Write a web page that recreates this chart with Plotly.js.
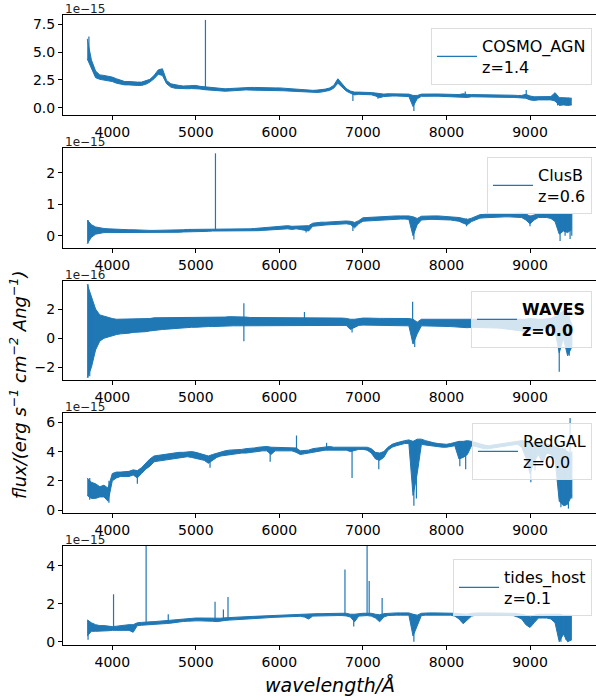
<!DOCTYPE html>
<html><head><meta charset="utf-8">
<script src="https://cdn.plot.ly/plotly-3.0.1.min.js"></script>
<style>html,body{margin:0;padding:0;background:#fff}#chart{width:596px;height:700px}</style>
</head><body><div id="chart"></div>
<script>
// shared wavelength grid (Angstrom)
const wave = [3700,3750,3800,3850,3900,3950,4000,4050,4100,4150,
4200,4250,4300,4350,4400,4450,4500,4550,4600,4650,
4700,4750,4800,4850,4900,4950,5000,5050,5100,5150,
5200,5250,5300,5350,5400,5450,5500,5550,5600,5650,
5700,5750,5800,5850,5900,5950,6000,6050,6100,6150,
6200,6250,6300,6350,6400,6450,6500,6550,6600,6650,
6700,6750,6800,6850,6900,6950,7000,7050,7100,7150,
7200,7250,7300,7350,7400,7450,7500,7550,7600,7650,
7700,7750,7800,7850,7900,7950,8000,8050,8100,8150,
8200,8250,8300,8350,8400,8450,8500,8550,8600,8650,
8700,8750,8800,8850,8900,8950,9000,9050,9100,9150,
9200,9250,9300,9350,9400,9450,9500];

const labels = ['COSMO_AGN<br>z=1.4','ClusB<br>z=0.6','WAVES<br>z=0.0','RedGAL<br>z=0.0','tides_host<br>z=0.1'];
const offsets = ['1e\u221215','1e\u221215','1e\u221216','1e\u221215','1e\u221215'];

// upper / lower edge of the noisy flux band (units of the offset shown above each panel)
const hiAGN = [6.2,4.3,3.3,2.95,2.9,2.85,2.75,2.6,2.45,2.35,
2.35,2.3,2.3,2.3,2.4,2.55,2.9,3.4,3.5,2.45,
2.15,2.05,2.0,1.95,1.95,2.0,2.0,1.92,1.88,1.82,
1.78,1.75,1.72,1.7,1.72,1.75,1.78,1.82,1.85,1.82,
1.82,1.8,1.8,1.8,1.78,1.78,1.78,1.75,1.72,1.7,
1.68,1.64,1.6,1.56,1.56,1.58,1.62,1.67,1.77,2.0,
2.6,2.15,1.72,1.5,1.4,1.4,1.4,1.38,1.36,1.32,
1.25,1.22,1.25,1.25,1.25,1.25,1.25,1.22,1.1,1.1,
1.22,1.24,1.24,1.23,1.23,1.22,1.22,1.2,1.2,1.18,
1.25,1.18,1.18,1.18,1.17,1.17,1.17,1.16,1.15,1.15,
1.14,1.13,1.12,1.1,1.1,1.2,1.05,0.98,1.0,1.0,
1.0,1.0,1.35,0.9,0.9,0.9,0.85];
const loAGN = [4.4,3.5,2.7,2.55,2.5,2.45,2.35,2.2,2.1,2.05,
2.05,2.0,2.0,2.0,2.1,2.3,2.6,3.0,2.9,2.15,
1.85,1.75,1.72,1.68,1.7,1.72,1.72,1.68,1.62,1.58,
1.55,1.52,1.5,1.48,1.5,1.53,1.55,1.58,1.6,1.58,
1.58,1.56,1.56,1.55,1.55,1.54,1.54,1.52,1.5,1.48,
1.46,1.42,1.38,1.35,1.35,1.37,1.4,1.45,1.55,1.75,
2.2,1.85,1.5,1.3,1.15,1.2,1.2,1.18,1.16,1.05,
0.9,1.0,1.05,1.05,1.05,1.05,1.05,1.0,0.1,0.8,
1.02,1.04,1.04,1.03,1.03,1.02,1.02,1.0,1.0,0.98,
0.95,0.92,0.98,0.98,0.97,0.97,0.97,0.96,0.95,0.95,
0.94,0.93,0.92,0.9,0.9,0.85,0.7,0.65,0.7,0.7,
0.7,0.7,0.6,0.2,0.25,0.2,0.25];
const hiClusB = [0.5,0.35,0.28,0.25,0.23,0.22,0.21,0.2,0.2,0.19,
0.19,0.19,0.18,0.18,0.18,0.17,0.17,0.17,0.18,0.18,
0.18,0.18,0.19,0.19,0.2,0.2,0.21,0.21,0.21,0.21,
0.22,0.22,0.22,0.22,0.22,0.22,0.21,0.21,0.22,0.22,
0.23,0.24,0.27,0.27,0.28,0.28,0.29,0.3,0.32,0.3,
0.31,0.32,0.33,0.32,0.4,0.42,0.43,0.43,0.44,0.45,
0.46,0.46,0.47,0.46,0.42,0.48,0.57,0.58,0.59,0.6,
0.6,0.61,0.62,0.63,0.63,0.63,0.63,0.63,0.6,0.55,
0.62,0.63,0.63,0.63,0.63,0.62,0.62,0.61,0.6,0.58,
0.55,0.52,0.56,0.62,0.67,0.68,0.69,0.7,0.7,0.7,
0.7,0.71,0.71,0.71,0.72,0.7,0.62,0.66,0.7,0.7,
0.7,0.7,0.7,0.7,0.7,0.7,0.7];
const loClusB = [-0.25,-0.05,0.05,0.08,0.1,0.1,0.1,0.1,0.1,0.1,
0.1,0.1,0.1,0.09,0.09,0.09,0.09,0.09,0.1,0.1,
0.1,0.11,0.11,0.12,0.12,0.13,0.13,0.14,0.14,0.14,
0.15,0.15,0.15,0.15,0.15,0.14,0.14,0.14,0.14,0.14,
0.15,0.16,0.17,0.18,0.18,0.19,0.2,0.21,0.22,0.2,
0.22,0.2,0.18,0.15,0.3,0.32,0.33,0.34,0.35,0.36,
0.37,0.37,0.38,0.36,0.25,0.38,0.46,0.47,0.48,0.49,
0.5,0.5,0.51,0.52,0.52,0.53,0.53,0.52,0.0,0.35,
0.5,0.52,0.52,0.52,0.52,0.51,0.5,0.5,0.48,0.46,
0.4,0.35,0.45,0.5,0.56,0.57,0.58,0.59,0.6,0.6,
0.6,0.6,0.6,0.6,0.58,0.5,0.38,0.5,0.58,0.58,
0.58,0.55,0.45,0.05,0.15,0.1,0.2];
const hiWAVES = [3.7,2.8,2.0,1.6,1.5,1.4,1.35,1.3,1.3,1.3,
1.3,1.3,1.3,1.3,1.35,1.35,1.4,1.4,1.4,1.4,
1.4,1.4,1.42,1.42,1.42,1.42,1.42,1.42,1.44,1.44,
1.45,1.45,1.45,1.45,1.48,1.48,1.45,1.45,1.45,1.42,
1.42,1.42,1.42,1.4,1.4,1.42,1.42,1.42,1.42,1.4,
1.4,1.4,1.42,1.4,1.4,1.4,1.4,1.4,1.4,1.4,
1.38,1.38,1.36,1.3,1.3,1.35,1.38,1.38,1.36,1.36,
1.36,1.36,1.36,1.36,1.36,1.36,1.36,1.35,1.3,1.1,
1.3,1.3,1.3,1.3,1.3,1.3,1.3,1.28,1.28,1.28,
1.28,1.28,1.3,1.3,1.3,1.3,1.3,1.3,1.3,1.3,
1.3,1.3,1.3,1.3,1.3,1.3,1.35,1.3,1.3,1.3,
1.3,1.35,1.5,1.6,1.9,1.6,1.0];
const loWAVES = [-2.7,-2.0,-0.8,-0.2,0.0,0.1,0.2,0.25,0.3,0.3,
0.35,0.4,0.4,0.45,0.45,0.5,0.55,0.55,0.6,0.62,
0.65,0.68,0.7,0.72,0.72,0.75,0.75,0.78,0.78,0.8,
0.8,0.82,0.82,0.85,0.85,0.85,0.85,0.85,0.85,0.85,
0.85,0.85,0.85,0.85,0.85,0.88,0.88,0.88,0.88,0.88,
0.9,0.9,0.9,0.9,0.9,0.9,0.9,0.9,0.9,0.9,
0.9,0.9,0.88,0.6,0.75,0.88,0.9,0.9,0.9,0.9,
0.9,0.9,0.9,0.9,0.9,0.88,0.88,0.85,-0.4,0.3,
0.85,0.85,0.85,0.85,0.82,0.82,0.82,0.8,0.78,0.75,
0.72,0.72,0.75,0.75,0.75,0.72,0.72,0.7,0.7,0.68,
0.65,0.6,0.6,0.55,0.5,0.45,0.55,0.6,0.65,0.7,
0.7,0.7,0.5,-1.0,0.0,-1.2,-0.6];
const hiRedGAL = [2.2,1.9,1.8,1.6,1.7,1.5,2.5,2.6,2.6,2.6,
2.65,2.75,2.7,2.9,3.2,3.5,3.7,3.75,3.8,3.8,
3.85,3.9,3.95,3.95,4.0,4.0,3.95,3.85,3.75,3.7,
3.8,3.9,4.0,4.05,4.1,4.1,4.15,4.15,4.2,4.2,
4.25,4.3,4.35,4.35,4.3,4.3,4.3,4.3,4.3,4.3,
4.25,4.05,4.05,4.1,4.2,4.25,4.3,4.35,4.35,4.3,
4.3,4.3,4.3,4.3,4.35,4.35,4.35,4.3,4.2,3.95,
3.9,4.0,4.3,4.5,4.6,4.7,4.75,4.8,4.7,4.85,
4.85,4.75,4.65,4.6,4.55,4.5,4.5,4.55,4.65,4.7,
4.7,4.75,4.7,4.6,4.5,4.45,4.4,4.45,4.5,4.55,
4.6,4.65,4.7,4.75,4.75,4.7,4.6,4.6,4.65,4.6,
4.5,4.4,4.3,4.25,4.2,4.0,3.8];
const loRedGAL = [1.0,0.8,0.8,0.9,0.9,0.6,2.0,2.2,2.3,2.3,
2.3,2.4,2.2,2.5,2.8,3.0,3.3,3.35,3.4,3.45,
3.5,3.55,3.6,3.6,3.65,3.6,3.55,3.5,3.4,3.2,
3.4,3.6,3.7,3.75,3.8,3.85,3.85,3.9,3.9,3.95,
3.95,4.0,4.05,4.05,3.8,4.05,4.05,4.05,4.05,4.05,
3.95,3.8,3.85,3.9,4.0,4.05,4.1,4.1,4.1,4.1,
4.1,4.1,4.1,4.0,4.1,4.15,4.15,4.1,3.9,3.5,
3.4,3.6,4.1,4.3,4.4,4.5,4.55,4.55,1.0,2.5,
4.5,4.45,4.4,4.35,4.3,4.3,4.3,4.35,4.4,3.5,
3.6,3.8,4.4,4.35,4.25,4.2,4.2,4.25,4.3,4.35,
4.4,4.45,4.5,4.5,4.3,3.6,2.5,3.3,3.8,3.2,
3.9,3.8,3.5,0.6,0.3,0.4,1.0];
const hiTides = [1.15,1.0,0.9,0.85,0.85,0.82,0.8,0.82,0.85,0.88,
0.9,0.9,1.0,1.02,1.05,1.05,1.06,1.08,1.1,1.12,
1.15,1.18,1.2,1.22,1.24,1.25,1.25,1.25,1.25,1.24,
1.22,1.22,1.24,1.26,1.28,1.3,1.3,1.31,1.32,1.33,
1.35,1.36,1.38,1.39,1.4,1.41,1.42,1.43,1.44,1.45,
1.45,1.46,1.46,1.46,1.47,1.48,1.48,1.49,1.5,1.5,
1.5,1.5,1.5,1.45,1.45,1.48,1.5,1.5,1.5,1.45,
1.42,1.48,1.5,1.52,1.52,1.52,1.52,1.52,1.45,1.4,
1.5,1.52,1.52,1.52,1.52,1.52,1.52,1.52,1.5,1.48,
1.45,1.45,1.5,1.52,1.52,1.52,1.52,1.52,1.52,1.52,
1.5,1.5,1.5,1.48,1.45,1.4,1.3,1.4,1.45,1.45,
1.45,1.45,1.45,1.45,1.4,1.4,1.4];
const loTides = [0.3,0.55,0.55,0.55,0.58,0.58,0.6,0.6,0.62,0.62,
0.6,0.5,0.85,0.87,0.88,0.9,0.92,0.92,0.94,0.96,
0.98,1.02,1.05,1.07,1.08,1.1,1.1,1.1,1.1,1.1,
1.08,1.06,1.1,1.12,1.14,1.15,1.16,1.17,1.18,1.2,
1.21,1.23,1.25,1.26,1.28,1.29,1.3,1.31,1.32,1.33,
1.33,1.34,1.3,1.2,1.35,1.36,1.37,1.38,1.38,1.38,
1.38,1.38,1.36,1.3,1.05,1.35,1.38,1.38,1.35,1.25,
1.05,1.3,1.38,1.4,1.4,1.4,1.4,1.4,0.3,0.8,
1.38,1.4,1.4,1.4,1.4,1.4,1.4,1.4,1.35,1.2,
0.95,1.15,1.35,1.4,1.4,1.4,1.4,1.4,1.4,1.4,
1.4,1.38,1.38,1.3,1.2,0.9,0.75,1.0,1.25,1.25,
1.25,1.2,1.0,0.0,0.4,0.0,0.1];

// narrow lines (emission spikes / absorption dips): wavelength, base, tip
const spikeW_AGN  = [3720,5115,6880,7180,7610,8225,8955,9330,9460];
const spikeA_AGN  = [4.5,1.7,1.3,1.2,1.0,1.0,1.0,0.9,0.9];
const spikeB_AGN  = [6.4,7.9,0.6,0.8,-0.3,1.45,1.6,0.2,0.2];
const spikeW_ClusB = [3710,5235,6320,6880,7610,8240,9000,9360,9420,9480,9500];
const spikeA_ClusB = [-0.25,0.18,0.3,0.45,0.6,0.55,0.65,0.7,0.7,0.7,0.7];
const spikeB_ClusB = [0.5,2.62,0.1,0.15,-0.12,0.3,0.3,-0.17,0.0,-0.1,0.0];
const spikeW_WAVES = [3710,3730,3760,5575,6300,6870,7595,7620,9350,9370,9470,9500];
const spikeA_WAVES = [-2.7,-2.6,-1.5,-0.2,1.0,1.0,1.0,1.0,1.0,0.0,-1.2,-0.6];
const spikeB_WAVES = [3.7,3.0,2.5,2.4,1.8,0.4,2.5,-0.6,-2.3,1.8,1.9,1.0];
const spikeW_RedGAL = [3730,3960,4300,5170,5890,6205,6565,6870,7190,7610,7640,8160,8230,9010,9060,9370,9420,9460,9480,9500];
const spikeA_RedGAL = [0.7,2.0,2.5,3.6,4.1,4.0,4.1,4.2,3.8,4.7,4.7,4.6,4.6,4.3,4.3,4.2,4.3,4.0,1.0,4.0];
const spikeB_RedGAL = [2.2,0.5,1.8,2.9,3.3,5.1,4.6,2.2,2.8,0.3,0.8,3.0,2.8,1.9,2.7,0.2,0.3,0.1,6.3,0.8];
const spikeW_Tides = [3710,4015,4405,4670,5230,5330,5385,6785,6890,7050,7075,7230,7610,8990,9370,9430,9490];
const spikeA_Tides = [0.1,0.75,0.95,1.0,1.15,1.15,1.2,1.45,1.4,1.45,1.45,1.45,1.45,1.4,1.4,1.4,1.4];
const spikeB_Tides = [1.15,2.5,5.2,1.45,2.1,1.7,2.35,3.8,0.8,5.2,3.2,2.3,0.0,0.8,0.0,0.1,0.1];

const C = '#1f77b4';
const his = [hiAGN, hiClusB, hiWAVES, hiRedGAL, hiTides];
const los = [loAGN, loClusB, loWAVES, loRedGAL, loTides];
const spikes = [[spikeW_AGN,spikeA_AGN,spikeB_AGN],[spikeW_ClusB,spikeA_ClusB,spikeB_ClusB],
  [spikeW_WAVES,spikeA_WAVES,spikeB_WAVES],[spikeW_RedGAL,spikeA_RedGAL,spikeB_RedGAL],
  [spikeW_Tides,spikeA_Tides,spikeB_Tides]];

// layout geometry
const H = 700, T = 15, B = 55, PH = H - T - B;
const panelPx = [[15,115],[148,248],[281,380],[413,513],[546,645]];
const yRanges = [[-0.66,8.34],[-0.39,2.79],[-2.86,3.92],[-0.2,6.64],[-0.17,5.04]];
const yDticks = [2.5,1,2,2,2];
const yFormats = ['.1f','d','d','d','d'];
const legendTops = [28,157,291,423,559];
const toPaper = px => (H - B - px) / PH;

const data = [];
const layout = {
  width: 596, height: 700,
  margin: {l:63, r:0, t:T, b:B},
  paper_bgcolor:'#fff', plot_bgcolor:'#fff',
  font: {family:'DejaVu Sans', color:'#000', size:14},
  showlegend: true,
  annotations: [],
};
const tickFont = {family:'DejaVu Sans', size:14, color:'#000'};
for (let k = 0; k < 5; k++) {
  const s = k === 0 ? '' : String(k+1);
  const leg = k === 0 ? 'legend' : 'legend' + (k+1);
  data.push({x: wave, y: los[k], xaxis:'x'+s, yaxis:'y'+s, mode:'lines',
    line:{color:C, width:1}, showlegend:false, hoverinfo:'skip'});
  data.push({x: wave, y: his[k], xaxis:'x'+s, yaxis:'y'+s, mode:'lines', fill:'tonexty', fillcolor:C,
    line:{color:C, width:1}, showlegend:false, hoverinfo:'skip'});
  const sx = [], sy = [];
  const [w,a,b] = spikes[k];
  for (let i = 0; i < w.length; i++) { sx.push(w[i], w[i], null); sy.push(a[i], b[i], null); }
  data.push({x: sx, y: sy, xaxis:'x'+s, yaxis:'y'+s, mode:'lines',
    line:{color:C, width:1.2}, name: labels[k], legend: leg, showlegend:true, hoverinfo:'skip'});
  const dom = [toPaper(panelPx[k][1]), toPaper(panelPx[k][0])];
  layout['xaxis'+s] = {domain:[0,1], anchor:'y'+s, range:[3410,9790], tick0:0, dtick:1000, tickformat:'d',
    showgrid:false, zeroline:false, showline:true, mirror:true, linecolor:'#000', linewidth:1,
    ticks:'outside', ticklen:4, tickwidth:1, tickcolor:'#000', tickfont:tickFont};
  layout['yaxis'+s] = {domain:dom, anchor:'x'+s, range:yRanges[k], tick0:0, dtick:yDticks[k],
    tickformat: yFormats[k],
    showgrid:false, zeroline:false, showline:true, mirror:true, linecolor:'#000', linewidth:1,
    ticks:'outside', ticklen:4, tickwidth:1, tickcolor:'#000', tickfont:tickFont};
  layout[leg] = {x:0.9925, xanchor:'right', y: toPaper(legendTops[k]), yanchor:'top',
    bgcolor:'rgba(255,255,255,0.8)', bordercolor:'#dddddd', borderwidth:1,
    font:{family:'DejaVu Sans', size:16, color:'#000', weight: k===2 ? 'bold' : 'normal'},
    itemwidth:40, itemclick:false, itemdoubleclick:false};
  layout.annotations.push({xref:'paper', yref:'paper', x:0, y: dom[1], xanchor:'left', yanchor:'bottom',
    yshift:-3, text: offsets[k], showarrow:false, font:{family:'DejaVu Sans', size:12, color:'#222'}});
}
layout.annotations.push({xref:'paper', yref:'paper', x:(18-63)/533, y:toPaper(385), xanchor:'center', yanchor:'middle',
  textangle:-90, showarrow:false,
  text:'flux/(erg s<sup>\u22121</sup> cm<sup>\u22122</sup> Ang<sup>\u22121</sup>)',
  font:{family:'DejaVu Sans', size:18, style:'italic', color:'#000'}});
layout.annotations.push({xref:'paper', yref:'paper', x:0.5, y:toPaper(685), xanchor:'center', yanchor:'middle',
  showarrow:false, text:'wavelength/\u00c5',
  font:{family:'DejaVu Sans', size:19, style:'italic', color:'#000'}});

Plotly.newPlot('chart', data, layout, {staticPlot:true, displayModeBar:false});
</script>
</body></html>
